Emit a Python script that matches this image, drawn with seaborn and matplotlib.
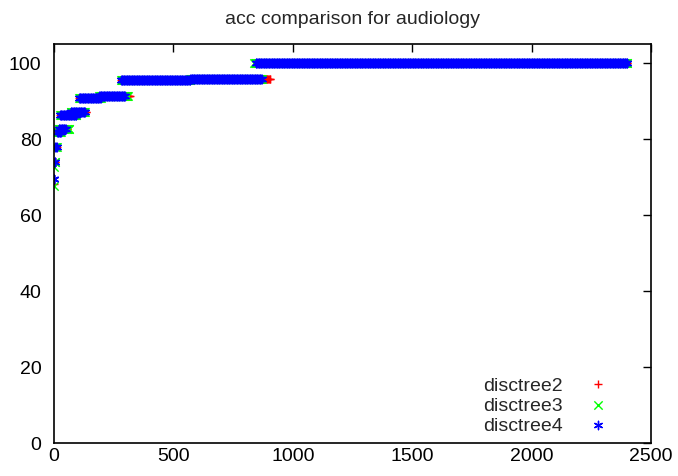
import numpy as np
import pandas as pd
import matplotlib
matplotlib.use("Agg")
import matplotlib.pyplot as plt
import seaborn as sns

# Accuracy plateaus per tree variant: (first x, last x, accuracy)
red_starts = [0, 3, 6, 12, 20, 25, 70, 105, 190, 280, 570, 880]
red_ends = [0, 5, 11, 30, 56, 92, 136, 195, 318, 570, 905, 2400]
red_acc = [68.2, 73.9, 77.9, 81.8, 82.7, 86.3, 87.1, 90.8, 91.3, 95.4, 95.7, 100.0]

green_starts = [0, 2, 3, 6, 12, 20, 25, 70, 105, 190, 280, 570, 838]
green_ends = [0, 2, 5, 11, 30, 63, 92, 130, 195, 310, 570, 870, 2400]
green_acc = [67.7, 72.6, 73.9, 77.9, 81.8, 82.7, 86.3, 87.1, 90.8, 91.3, 95.4, 95.7, 100.0]

blue_starts = [0, 1, 3, 6, 12, 20, 25, 70, 105, 190, 280, 570, 845]
blue_ends = [0, 2, 5, 11, 30, 50, 92, 130, 195, 297, 570, 870, 2400]
blue_acc = [69.6, 69.6, 73.9, 77.9, 81.8, 82.7, 86.3, 87.1, 90.8, 91.3, 95.4, 95.7, 100.0]

series_names = ["disctree2", "disctree3", "disctree4"]
colors = ["#ff0000", "#00ff00", "#0000ff"]
markers = ["+", "x", (6, 2, 0)]


def expand(starts, ends, acc, step=3):
    xs, ys = [], []
    for s, e, a in zip(starts, ends, acc):
        x = np.arange(s, e + 1, step)
        if len(x) == 0 or x[-1] != e:
            x = np.append(x, e)
        xs.append(x)
        ys.append(np.full(len(x), a))
    return np.concatenate(xs), np.concatenate(ys)


sns.set_style("white")
plt.rcParams["font.family"] = ["Liberation Sans", "DejaVu Sans"]

fig = plt.figure(figsize=(6.78, 4.77), dpi=100)
ax = fig.add_axes([0.0796, 0.0692, 0.8805, 0.8365])

all_series = [
    (red_starts, red_ends, red_acc),
    (green_starts, green_ends, green_acc),
    (blue_starts, blue_ends, blue_acc),
]
for name, col, mk, (s, e, a) in zip(series_names, colors, markers, all_series):
    x, y = expand(s, e, a)
    df = pd.DataFrame({"x": x, "acc": y})
    sns.scatterplot(data=df, x="x", y="acc", ax=ax, marker=mk, color=col,
                    s=36, linewidth=1.0, edgecolor=col, label=name)

ax.set_xlim(0, 2500)
ax.set_ylim(0, 105)
ax.set_xticks([0, 500, 1000, 1500, 2000, 2500])
ax.set_yticks([0, 20, 40, 60, 80, 100])
ax.set_xlabel("")
ax.set_ylabel("")
ax.tick_params(direction="in", length=6, width=1, top=True, right=True,
               labelsize=14, colors="black")
ax.tick_params(axis="y", pad=9)
ax.tick_params(axis="x", pad=3)
for sp in ax.spines.values():
    sp.set_color("black")
    sp.set_linewidth(1.2)
ax.set_title("acc comparison for audiology", fontsize=14, pad=15)

leg = ax.legend(loc="lower right", bbox_to_anchor=(0.95, -0.012),
                markerfirst=False, frameon=False,
                fontsize=14, handletextpad=1.3, labelspacing=0.14,
                borderaxespad=0.3, handlelength=1.0)

fig.savefig("out.png", dpi=100)
